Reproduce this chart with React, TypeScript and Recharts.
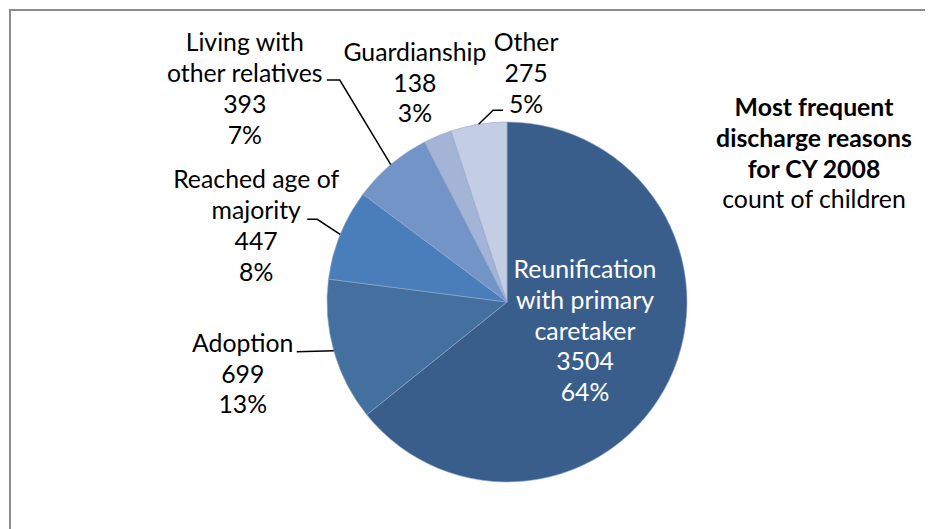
import React from "react";
import { PieChart, Pie, Cell } from "recharts";

const categories = [
  "Reunification with primary caretaker",
  "Adoption",
  "Reached age of majority",
  "Living with other relatives",
  "Guardianship",
  "Other",
];
const counts = [3504, 699, 447, 393, 138, 275];
const percentLabels = ["64%", "13%", "8%", "7%", "3%", "5%"];
const labelLines = [
  ["Reunification", "with primary", "caretaker"],
  ["Adoption"],
  ["Reached age of", "majority"],
  ["Living with", "other relatives"],
  ["Guardianship"],
  ["Other"],
];
const colors = ["#3A5E8C", "#44709F", "#4A7EBB", "#7394C7", "#A3B4D6", "#C3CDE3"];

const data = categories.map((name, i) => ({ name, value: counts[i] }));

const FONT = "Lato, 'Open Sans', sans-serif";
const FS = 24.8;
const LH = 30.8;

// label layout relative to slice edge point at mid angle
const layout: any[] = [
  { inside: true, dx: 78, dy: -33 },
  { dx: -91, dy: -8, line: [[-37, 1]] },
  { dx: -84, dy: -55, line: [[-23, -15], [-33, -15]] },
  { dx: -146, dy: -122, line: [[-51, -84.5], [-64, -84.5]] },
  { dx: -22.6, dy: -84 },
  { dx: 47.5, dy: -82, line: [[14.5, -14], [24.5, -14]] },
];

const RAD = Math.PI / 180;

const renderLabel = (props: any) => {
  const { cx, cy, midAngle, outerRadius, index } = props;
  const ex = cx + outerRadius * Math.cos(-midAngle * RAD);
  const ey = cy + outerRadius * Math.sin(-midAngle * RAD);
  const L = layout[index];
  const lines = [...labelLines[index], String(counts[index]), percentLabels[index]];
  const bx = L.inside ? cx + L.dx : ex + L.dx;
  const by = L.inside ? cy + L.dy : ey + L.dy;
  let path = "";
  if (L.line) {
    path = `M${ex},${ey}` + L.line.map((p: number[]) => ` L${ex + p[0]},${ey + p[1]}`).join("");
  }
  return (
    <g key={`lbl-${index}`}>
      {path && <path d={path} stroke="#000" strokeWidth={1.5} fill="none" />}
      <text
        x={bx}
        textAnchor="middle"
        fontFamily={FONT}
        fontSize={FS}
        fill={L.inside ? "#ffffff" : "#000000"}
      >
        {lines.map((t, k) => (
          <tspan key={k} x={bx} y={by + k * LH + FS * 0.36}>
            {t}
          </tspan>
        ))}
      </text>
    </g>
  );
};

export default function App() {
  return (
    <div
      style={{
        position: "relative",
        width: 925,
        height: 521,
        background: "#fff",
      }}
    >
      <svg
        width={924}
        height={520}
        style={{ position: "absolute", left: 1, top: 1, display: "block" }}
      >
        <line x1={1} y1={0} x2={1} y2={520} stroke="#8c8c8c" strokeWidth={2} />
        <line x1={0} y1={1} x2={924} y2={1} stroke="#8c8c8c" strokeWidth={2} />
      </svg>
      <div style={{ position: "absolute", left: 0, top: 0 }}>
        <PieChart width={900} height={513} margin={{ top: 0, right: 0, bottom: 0, left: 0 }}>
          <Pie
            data={data}
            dataKey="value"
            nameKey="name"
            cx={499}
            cy={294}
            outerRadius={180}
            startAngle={90}
            endAngle={-270}
            stroke="#8fa6cc"
            strokeWidth={0.6}
            label={renderLabel}
            labelLine={false}
            isAnimationActive={false}
          >
            {data.map((d, i) => (
              <Cell key={d.name} fill={colors[i]} />
            ))}
          </Pie>
        </PieChart>
      </div>
      <div
        style={{
          position: "absolute",
          left: 706,
          top: 84,
          width: 200,
          textAlign: "center",
          fontFamily: FONT,
          fontSize: FS,
          lineHeight: `${LH}px`,
          color: "#000",
          whiteSpace: "nowrap",
        }}
      >
        <div style={{ fontWeight: "bold" }}>Most frequent</div>
        <div style={{ fontWeight: "bold" }}>discharge reasons</div>
        <div style={{ fontWeight: "bold" }}>for CY 2008</div>
        <div>count of children</div>
      </div>
    </div>
  );
}
